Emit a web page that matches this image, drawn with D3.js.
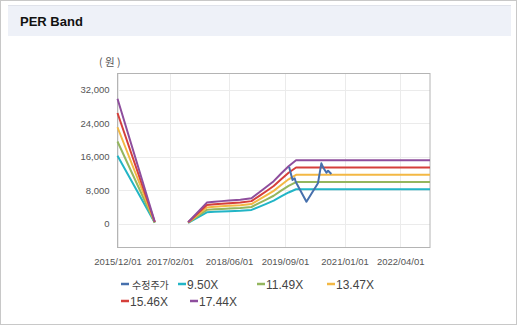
<!DOCTYPE html>
<html><head><meta charset="utf-8">
<script src="https://cdn.jsdelivr.net/npm/d3@7"></script>
<style>body{margin:0;background:#fff}svg{display:block}</style>
</head><body><svg id="c" width="517" height="325"></svg>
<script>
const bandDates = ["2015-12-01","2016-10-01","2017-03-01","2017-07-01","2017-12-01","2018-02-01","2018-04-01","2018-06-01","2018-09-01","2018-12-01","2019-02-01","2019-04-01","2019-06-01","2019-08-01","2019-10-01","2019-12-01","2022-12-01"];
const band950  = [16264,285,null,238,2774,2898,2964,3040,3154,3344,4085,4798,5558,6555,7505,8265,8265];
const band1149 = [19671,345,null,287,3355,3504,3585,3677,3815,4044,4941,5802,6722,7928,9077,9996,9996];
const band1347 = [23061,404,null,337,3933,4108,4203,4310,4472,4741,5792,6802,7880,9294,10641,11719,11719];
const band1546 = [26468,464,null,387,4514,4715,4824,4947,5133,5442,6648,7807,9044,10667,12213,13450,13450];
const band1744 = [29857,523,null,436,5092,5319,5441,5581,5790,6139,7499,8807,10202,12034,13778,15173,15173];
const priceDates = ["2019-10-05","2019-11-02","2019-11-20","2019-11-28","2020-02-24","2020-05-28","2020-06-25","2020-07-14","2020-08-06","2020-08-19","2020-09-15"];
const priceValues = [13650,10480,10885,10075,5304,9690,14460,13270,12220,12700,11910];
const seriesNames = ["수정주가","9.50X","11.49X","13.47X","15.46X","17.44X"];
const seriesColors = ["#4670ad","#22b5c6","#94b65e","#f3b844","#d53f3b","#8e4e9d"];
const xTickLabels = ["2015/12/01","2017/02/01","2018/06/01","2019/09/01","2021/01/01","2022/04/01"];
const yTicks = [0,8000,16000,24000,32000];

const svg = d3.select("#c");
const parse = d3.timeParse("%Y-%m-%d");
const parseTick = d3.timeParse("%Y/%m/%d");

// frame & title
svg.append("rect").attr("x",0.5).attr("y",0.5).attr("width",516).attr("height",324).attr("fill","#fff").attr("stroke","#c8c8c8");
svg.append("rect").attr("x",8).attr("y",5).attr("width",503).attr("height",31).attr("fill","#eef1f8");
svg.append("line").attr("x1",8).attr("x2",511).attr("y1",5.5).attr("y2",5.5).attr("stroke","#dfe2ea");
svg.append("text").attr("x",20).attr("y",26).text("PER Band")
  .attr("font-family","Liberation Sans, Arial, sans-serif").attr("font-weight","bold").attr("font-size",13).attr("fill","#111");

const L=117.5, R=430, T=73, B=247;
const x = d3.scaleTime().domain([parse("2015-12-01"), parse("2022-12-01")]).range([L,R]);
const y = d3.scaleLinear().domain([-5500,36000]).range([B,T]);

// grid
const g = svg.append("g");
g.selectAll(".hg").data(yTicks).enter().append("line")
  .attr("x1",L).attr("x2",R).attr("y1",d=>Math.round(y(d))+0.5).attr("y2",d=>Math.round(y(d))+0.5)
  .attr("stroke","#ebebeb");
const xt = xTickLabels.map(parseTick);
g.selectAll(".vg").data(xt).enter().append("line")
  .attr("y1",T).attr("y2",B).attr("x1",d=>Math.round(x(d))+0.5).attr("x2",d=>Math.round(x(d))+0.5)
  .attr("stroke","#ebebeb");
svg.append("rect").attr("x",L).attr("y",T+0.5).attr("width",R-L).attr("height",B-T).attr("fill","none").attr("stroke","#b4b4b4");

// axes
const fontF = "Liberation Sans, Arial, sans-serif";
const ya = svg.append("g").attr("transform",`translate(${L},0)`)
  .call(d3.axisLeft(y).tickValues(yTicks).tickFormat(d3.format(",")).tickSize(0).tickPadding(8));
ya.select(".domain").remove();
ya.selectAll("text").attr("font-family",fontF).attr("font-size",9.5).attr("fill","#555");
const xa = svg.append("g").attr("transform",`translate(0,${B})`)
  .call(d3.axisBottom(x).tickValues(xt).tickFormat(d3.timeFormat("%Y/%m/%d")).tickSize(0).tickPadding(11));
xa.select(".domain").remove();
xa.selectAll("text").attr("font-family",fontF).attr("font-size",9.5).attr("fill","#555");
svg.append("text").attr("x",99).attr("y",66).text("( 원 )")
  .attr("font-family","Noto Sans CJK KR, sans-serif").attr("font-size",10.5).attr("fill","#555");

// bands
const bd = bandDates.map(parse);
const bands = [band950,band1149,band1347,band1546,band1744];
const line = d3.line().defined(d=>d[1]!=null).x(d=>x(d[0])).y(d=>y(d[1]));
bands.forEach((vals,i)=>{
  svg.append("path").datum(bd.map((d,j)=>[d,vals[j]]))
    .attr("d",line).attr("fill","none").attr("stroke",seriesColors[i+1]).attr("stroke-width",2).attr("stroke-linejoin","round");
});
svg.append("path").datum(priceDates.map((d,j)=>[parse(d),priceValues[j]]))
  .attr("d",line).attr("fill","none").attr("stroke",seriesColors[0]).attr("stroke-width",2).attr("stroke-linejoin","round");

// legend
const legPos = [[121,284],[178,284],[257,284],[327,284],[121,301],[190,301]];
seriesNames.forEach((n,i)=>{
  const [lx,ly]=legPos[i];
  svg.append("line").attr("x1",lx).attr("x2",lx+8).attr("y1",ly).attr("y2",ly).attr("stroke",seriesColors[i]).attr("stroke-width",2.5);
  svg.append("text").attr("x",lx+(i===0?11:9)).attr("y",ly+4.5).text(n)
    .attr("font-family", i===0 ? "Noto Sans CJK KR, sans-serif" : fontF).attr("font-size",i===0?10:12).attr("fill","#444");
});
</script></body></html>
